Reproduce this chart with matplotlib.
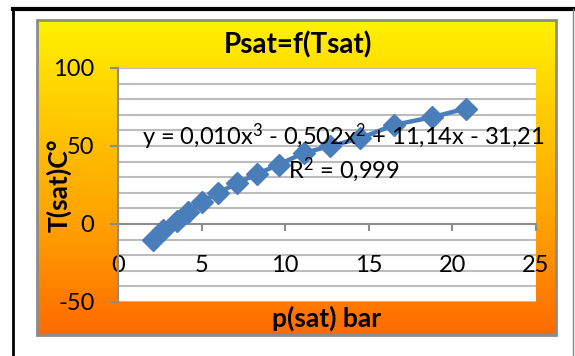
import matplotlib.pyplot as plt
import numpy as np
from matplotlib.colors import LinearSegmentedColormap
from matplotlib.patches import Rectangle

# saturation data
p_sat = [2.1, 2.7, 3.5, 4.2, 5.0, 6.0, 7.1, 8.3, 9.6, 11.1, 12.7, 14.5, 16.5, 18.8, 20.8]
t_sat = [-10, -4, 2, 8, 14, 20, 26, 32, 38, 45.5, 50, 55, 63.5, 68.5, 74]

x_ticks = [0, 5, 10, 15, 20, 25]
y_ticks = [-50, 0, 50, 100]

title = "Psat=f(Tsat)"
x_label = "p(sat) bar"
y_label = "T(sat)C°"
eq_text = r"y = 0,010x$^{3}$ - 0,502x$^{2}$ + 11,14x - 31,21"
r2_text = r"R$^{2}$ = 0,999"

W, H = 575, 356
plt.rcParams['font.family'] = ['Lato', 'DejaVu Sans']
plt.rcParams['axes.unicode_minus'] = False
plt.rcParams['mathtext.fontset'] = 'custom'
plt.rcParams['mathtext.rm'] = 'Lato'
plt.rcParams['mathtext.default'] = 'regular'

fig = plt.figure(figsize=(W / 100, H / 100), dpi=100)

# background in pixel coordinates
bg = fig.add_axes([0, 0, 1, 1])
bg.set_xlim(0, W)
bg.set_ylim(H, 0)
bg.axis('off')

cmap = LinearSegmentedColormap.from_list(
    'fire', [(0, '#fff200'), (0.35, '#ffc400'), (0.7, '#ff9a00'), (1, '#ff6a00')])
grad = np.linspace(0, 1, 256).reshape(-1, 1)
bg.imshow(grad, cmap=cmap, aspect='auto', extent=[37, 556, 335, 20], zorder=1)
bg.add_patch(Rectangle((37, 20), 519, 315, fill=False, ec='#8c8c8c', lw=2, zorder=2))

# outer frame
bg.plot([13, 13], [9, H], color='black', lw=2)
bg.plot([13, W], [9, 9], color='black', lw=3)
bg.plot([573, 573], [9, H], color='#888888', lw=1)

# plot area
ax = fig.add_axes([118 / W, 1 - 302 / H, (536 - 118) / W, (302 - 68) / H])
ax.set_facecolor('white')
ax.set_xlim(0, 25)
ax.set_ylim(-50, 100)

for y in range(-50, 101, 10):
    ax.axhline(y, color='#bcbcbc', lw=1.5, zorder=1)

ax.plot(p_sat, t_sat, color='#4a7ebb', lw=3.2, marker='D', ms=11,
        mec='#4a7ebb', zorder=3, clip_on=False)

for s in ['top', 'right']:
    ax.spines[s].set_visible(False)
ax.spines['left'].set_color('#8c8c8c')
ax.spines['left'].set_linewidth(1.5)
ax.spines['bottom'].set_position(('data', 0))
ax.spines['bottom'].set_color('#8c8c8c')
ax.spines['bottom'].set_linewidth(1.5)

ax.set_xticks(x_ticks)
ax.set_yticks(y_ticks)
ax.tick_params(axis='y', direction='out', length=6, width=1.5, color='#8c8c8c',
               pad=11, labelsize=17)
ax.tick_params(axis='x', direction='out', length=5, width=1.5, color='#8c8c8c',
               pad=17, labelsize=17)
for lab in ax.get_xticklabels():
    lab.set_zorder(4)

fig.text(298 / W, 1 - 45 / H, title, ha='center', va='center',
         fontsize=20, fontweight='bold')
fig.text(327 / W, 1 - 318 / H, x_label, ha='center', va='center',
         fontsize=19, fontweight='bold')
fig.text(59 / W, 1 - 185 / H, y_label, ha='center', va='center',
         fontsize=19, fontweight='bold', rotation=90)

fig.text(343 / W, 1 - 137 / H, eq_text, ha='center', va='center', fontsize=17)
fig.text(344 / W, 1 - 170 / H, r2_text, ha='center', va='center', fontsize=17)

fig.savefig('out.png', dpi=100)
